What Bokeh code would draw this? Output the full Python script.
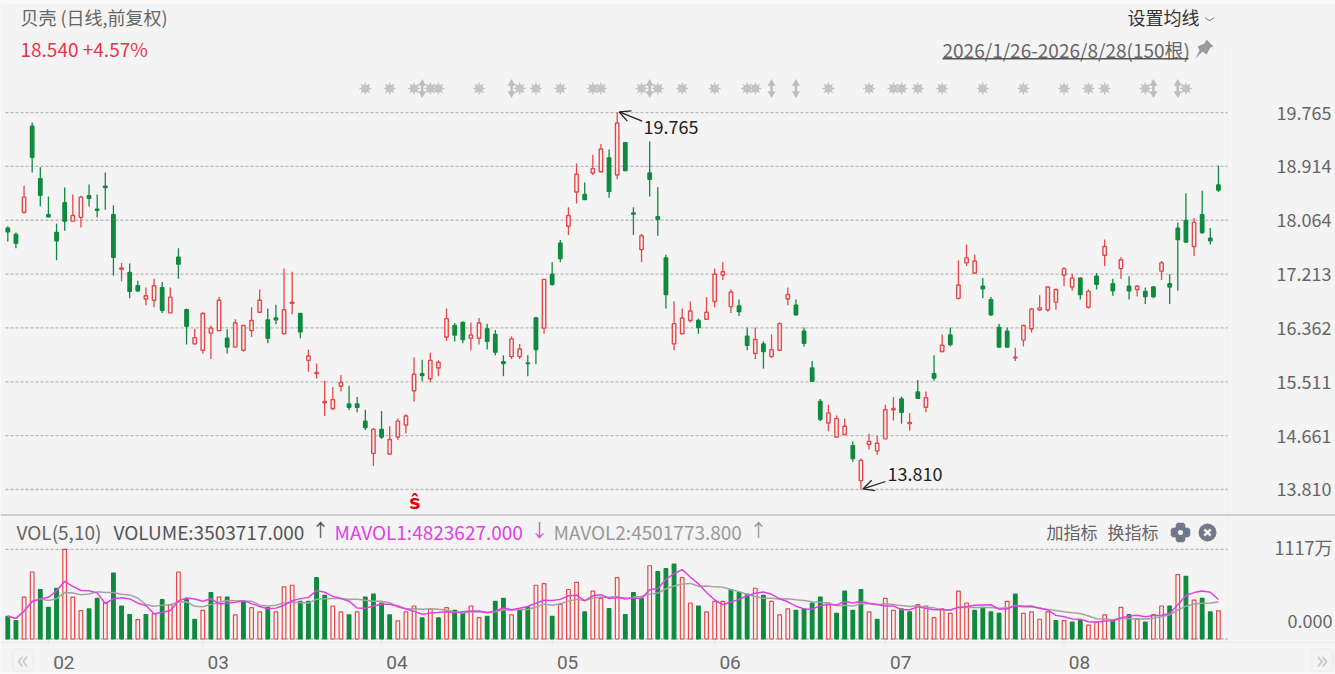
from bokeh.plotting import figure
from bokeh.models import (Range1d, FixedTicker, NumeralTickFormatter, Label, BoxAnnotation,
                          Arrow, OpenHead, ColumnDataSource)
from bokeh.embed import file_html
from bokeh.resources import INLINE
import pandas as pd

high = [17.97,17.87,18.61,19.61,18.90,18.44,18.01,18.58,18.47,18.45,
18.63,18.47,18.82,18.30,17.39,17.38,17.11,17.00,17.14,17.09,
17.00,17.62,16.67,16.35,16.61,16.40,16.85,16.34,16.50,16.40,
16.69,16.97,16.67,16.73,17.30,17.25,16.60,16.02,15.80,15.53,
15.43,15.62,15.45,15.27,15.07,14.78,15.05,14.81,14.93,15.00,
15.90,15.86,15.97,15.85,16.67,16.44,16.47,16.45,16.52,16.43,
16.33,15.93,16.23,16.11,15.93,16.54,17.14,17.40,17.75,18.27,
18.96,18.66,19.10,19.27,19.18,19.765,19.30,18.27,17.85,19.31,
18.59,17.52,16.78,16.67,16.78,16.51,16.85,17.30,17.40,16.97,
16.81,16.37,16.37,16.15,16.26,16.45,17.00,16.81,16.37,15.84,
15.24,15.15,14.98,14.93,14.57,14.30,14.69,14.66,15.15,15.27,
15.28,15.02,15.54,15.36,15.93,16.26,16.37,17.43,17.68,17.52,
17.15,16.85,16.43,16.37,16.05,16.40,16.68,16.88,17.02,16.98,
17.32,17.22,17.16,16.97,17.23,17.76,17.14,17.48,17.18,17.04,
17.00,17.02,17.42,17.21,18.03,18.49,18.10,18.53,17.94,18.93]

low = [17.73,17.62,18.17,18.82,18.28,18.11,17.43,17.90,18.04,17.95,
18.28,18.11,18.23,17.19,17.10,16.83,16.93,16.72,16.69,16.60,
16.60,17.14,16.10,16.10,15.96,15.87,16.31,15.96,16.06,15.99,
16.22,16.60,16.12,16.42,16.27,16.58,16.20,15.67,15.56,14.97,
15.06,15.36,15.06,15.03,14.75,14.18,14.61,14.37,14.59,14.70,
15.20,15.52,15.50,15.60,16.16,16.15,16.12,16.01,16.10,16.02,
15.93,15.60,15.87,15.87,15.60,15.79,16.27,17.03,17.40,17.83,
18.33,18.39,18.78,18.82,18.42,18.71,18.84,17.83,17.40,18.44,
17.82,16.67,16.01,16.27,16.45,16.27,16.49,16.69,17.12,16.60,
16.55,16.01,15.87,15.72,15.89,16.00,16.72,16.56,16.07,15.51,
14.89,14.73,14.63,14.66,14.25,13.81,14.44,14.36,14.61,14.90,
14.85,14.74,15.24,15.03,15.53,15.98,16.07,16.81,17.34,17.22,
16.83,16.55,16.05,16.05,15.84,16.07,16.29,16.63,16.62,16.65,
17.02,16.95,16.81,16.67,16.97,17.34,16.87,17.14,16.81,16.86,
16.74,16.83,17.12,16.74,16.95,17.71,17.50,17.85,17.68,18.51]

open_ = [17.94,17.84,18.19,19.55,18.72,18.15,17.87,18.34,18.05,18.11,
18.45,18.24,18.60,18.15,17.29,17.24,17.03,16.82,16.80,17.00,
16.60,17.48,16.65,16.11,16.01,16.28,16.32,16.20,16.06,16.01,
16.32,16.61,16.49,16.52,16.27,16.75,16.59,15.85,15.64,15.18,
15.09,15.44,15.16,15.16,14.89,14.38,14.76,14.37,14.64,14.83,
15.37,15.64,15.56,15.73,16.22,16.40,16.45,16.20,16.20,16.35,
16.26,15.83,15.91,15.91,15.81,16.52,16.36,17.21,17.70,17.97,
18.51,18.47,18.81,18.83,19.05,18.78,19.29,18.18,17.60,18.81,
18.12,17.47,16.11,16.27,16.48,16.48,16.50,16.78,17.20,16.70,
16.71,16.23,15.96,16.11,15.91,16.01,16.82,16.72,16.31,15.73,
15.20,14.86,14.64,14.68,14.50,13.95,14.52,14.42,14.61,15.07,
15.24,14.85,15.35,15.11,15.64,15.99,16.25,16.83,17.39,17.23,
17.02,16.81,16.37,16.31,15.89,16.17,16.35,16.65,16.65,16.77,
17.20,17.01,17.15,16.69,17.18,17.51,17.06,17.30,17.02,16.97,
16.94,17.01,17.26,17.06,17.94,18.06,17.65,18.15,17.78,18.62]

close = [17.88,17.70,18.43,19.06,18.46,18.12,17.74,18.05,18.14,18.43,
18.41,18.22,18.58,17.48,17.31,16.94,16.95,16.87,17.03,16.64,
16.85,17.37,16.39,16.21,16.59,16.36,16.80,16.06,16.44,16.40,
16.48,16.80,16.20,16.49,16.65,16.77,16.30,15.92,15.66,15.20,
15.23,15.50,15.11,15.11,14.79,14.76,14.64,14.60,14.89,14.97,
15.63,15.61,15.85,15.82,16.51,16.25,16.18,16.25,16.44,16.15,
15.98,15.80,16.19,16.03,15.80,16.02,17.13,17.05,17.46,18.14,
18.79,18.39,18.88,19.19,18.52,19.60,18.85,18.16,17.82,18.71,
18.08,16.89,16.43,16.52,16.63,16.37,16.61,17.21,17.25,16.93,
16.62,16.09,16.18,15.99,16.02,16.43,16.89,16.57,16.12,15.52,
14.92,15.02,14.93,14.81,14.30,14.27,14.57,14.54,15.07,15.09,
15.03,14.87,15.25,15.26,15.57,16.09,16.10,17.04,17.47,17.42,
16.98,16.57,16.06,16.06,15.90,16.40,16.66,16.68,17.01,16.97,
17.30,17.15,16.89,16.94,17.05,17.65,16.95,17.44,16.95,17.02,
16.86,16.86,17.39,17.01,17.76,17.72,18.03,17.87,17.74,18.54]

# volume, in units of 10 000 shares
volume = [283,230,522,834,616,394,632,1117,522,353,
374,505,452,821,411,304,242,304,316,489,
427,834,489,246,357,579,522,522,300,468,
390,337,390,337,649,669,468,468,764,542,
411,337,300,337,522,559,448,300,226,337,
411,263,374,263,390,357,320,411,267,283,
468,505,300,357,394,669,690,283,431,616,
706,337,596,505,378,764,304,579,505,912,
838,875,932,764,448,411,337,468,468,616,
579,559,632,542,468,300,374,357,374,448,
522,448,320,596,357,616,337,246,505,357,
374,337,427,411,267,374,320,596,448,357,
394,337,320,468,559,320,337,246,337,230,
230,209,230,172,209,300,230,394,304,246,
209,304,411,411,801,780,485,505,337,350.37]

volume_dir = ("GGRRGGGRRR" "GGRGGGRGRG" "RRGGRGRGRG" "RRGRRRGGGG" "RRGRGGGGRR"
              "RGRGRGGRRG" "GGRGGRRGRR" "RGRRGRGGGR" "GGGRRGRRRG" "GGRGRRRGGG"
              "GRGGGGRGRR" "GGRRRRRRRG" "GGGRGRRRRG" "RGGRRRGRGR" "GRRGRGRGGR")

price_ticks = [19.765, 18.914, 18.064, 17.213, 16.362, 15.511, 14.661, 13.810]
volume_ticks = [1117, 0]
month_labels = ["02", "03", "04", "05", "06", "07", "08"]
month_first_bar = [5, 24, 46, 67, 87, 108, 130]
event_star_bars = [44, 47, 50, 52, 53, 58, 63, 65, 68, 72, 73, 78, 80, 83, 87, 91, 92, 101, 106,
                   109, 110, 112, 115, 120, 125, 130, 133, 135, 140, 145]
event_arrow_bars = [51, 62, 79, 94, 97, 141, 144]
high_bar, low_bar = 75, 105

GREEN, RED, BG, TXT, FONT = "#108a3e", "#e5484a", "#f4f4f4", "#666666", "Noto Sans CJK SC"
PX_PER_BAR, X0, UNIT_PER_PX = 8.125, 7.3, 0.0158
W, H, PLOT_R, PLOT_B = 1335, 674, 1227, 642
PRICE_TOP = 21.536
VOL_PER_PX, VOL_ZERO_PY = 12.45, 638.5

def X(px): return (px - X0) / PX_PER_BAR
def Y(py): return PRICE_TOP - UNIT_PER_PX * py

n = len(close)
df = pd.DataFrame(dict(i=list(range(n)), o=open_, h=high, l=low, c=close, v=volume))
df["top"] = df[["o", "c"]].max(axis=1)
df["bot"] = df[["o", "c"]].min(axis=1)
df["col"] = [RED if c >= o else GREEN for o, c in zip(open_, close)]
df["fill"] = [BG if c >= o else GREEN for o, c in zip(open_, close)]
df["vcol"] = [RED if d == "R" else GREEN for d in volume_dir]
df["vfill"] = [BG if d == "R" else GREEN for d in volume_dir]
df["ma5"] = df["v"].rolling(5, min_periods=1).mean()
df["ma10"] = df["v"].rolling(10, min_periods=1).mean()
src = ColumnDataSource(df)

p = figure(frame_width=W, frame_height=H, output_backend="svg", toolbar_location=None,
           x_range=Range1d(X(0), X(W)), y_range=Range1d(Y(H), Y(0)),
           y_axis_location="right", min_border_left=0, min_border_top=0,
           min_border_right=0, min_border_bottom=0,
           background_fill_color=BG, border_fill_color=BG, outline_line_color=None)
p.grid.visible = False
p.extra_y_ranges = {"vol": Range1d((VOL_ZERO_PY - H) * VOL_PER_PX, VOL_ZERO_PY * VOL_PER_PX)}

ax = p.yaxis[0]
ax.fixed_location = X(PLOT_R)
ax.ticker = FixedTicker(ticks=price_ticks)
ax.formatter = NumeralTickFormatter(format="0.000")
ax.major_tick_line_color = None
ax.minor_tick_line_color = None
ax.major_tick_out = 0
ax.major_tick_in = 0
ax.axis_line_color = None
ax.major_label_standoff = 49
ax.major_label_text_font = FONT
ax.major_label_text_font_size = "18px"
ax.major_label_text_color = TXT

xa = p.xaxis[0]
xa.fixed_location = Y(PLOT_B)
label_pos = [round(m + 1.9, 1) for m in month_first_bar]
xa.ticker = FixedTicker(ticks=label_pos)
xa.major_label_overrides = {k: v for k, v in zip(label_pos, month_labels)}
xa.major_tick_line_color = None
xa.minor_tick_line_color = None
xa.major_tick_out = 0
xa.major_tick_in = 0
xa.axis_line_color = "#e9e9e9"
xa.major_label_standoff = 13
xa.major_label_text_font = "Roboto"
xa.major_label_text_font_size = "19px"
xa.major_label_text_color = TXT

# faint right edge of the plot area
p.segment(x0=[X(PLOT_R)], x1=[X(PLOT_R)], y0=[Y(45)], y1=[Y(PLOT_B)], line_color="#eeeeee")

# month ticks
p.segment(x0=month_first_bar, x1=month_first_bar, y0=[Y(640)] * 7, y1=[Y(PLOT_B + 2)] * 7, line_color="#dddddd")

# dashed reference lines
grid_kw = dict(line_color="#b8b8b8", line_width=1.3, line_dash="3 2")
p.segment(x0=[X(5)] * len(price_ticks), x1=[X(PLOT_R)] * len(price_ticks), y0=price_ticks, y1=price_ticks, **grid_kw)
p.segment(x0=[X(5)] * 2, x1=[X(PLOT_R)] * 2, y0=volume_ticks, y1=volume_ticks, y_range_name="vol", **grid_kw)

# candles
p.segment("i", "h", "i", "l", source=src, line_color="col", line_width=1.3)
p.vbar(x="i", top="top", bottom="bot", width=0.42, source=src, fill_color="fill", line_color="col", line_width=1.4)

# volume
p.vbar(x="i", top="v", bottom=0, width=0.45, source=src, fill_color="vfill", line_color="vcol",
       line_width=1.2, y_range_name="vol")
p.line("i", "ma10", source=src, line_color="#a3a3a3", line_width=1.5, y_range_name="vol")
p.line("i", "ma5", source=src, line_color="#e23fe8", line_width=1.5, y_range_name="vol")

# event markers
ev_y = Y(88)
p.scatter(event_star_bars, [ev_y] * len(event_star_bars), marker="circle", size=8, fill_color="#c4c4c4", line_color=None)
p.scatter(event_star_bars, [ev_y] * len(event_star_bars), marker="asterisk", size=12, line_color="#c4c4c4", line_width=1.3)
n_arrow = len(event_arrow_bars)
p.segment(x0=event_arrow_bars, x1=event_arrow_bars, y0=[Y(84)] * n_arrow, y1=[Y(92)] * n_arrow, line_color="#bdbdbd", line_width=2.5)
p.scatter(event_arrow_bars, [Y(83)] * n_arrow, marker="triangle", size=8, fill_color="#bdbdbd", line_color=None)
p.scatter(event_arrow_bars, [Y(93)] * n_arrow, marker="inverted_triangle", size=8, fill_color="#bdbdbd", line_color=None)

def L(px, py, text, color=TXT, size=18, align="left", font=FONT, style="normal"):
    p.add_layout(Label(x=px, y=H - py + 1.5, x_units="screen", y_units="screen", text=text, text_color=color,
                       text_font_size=f"{size}px", text_align=align, text_baseline="middle",
                       text_font=font, text_font_style=style))

def B(x0, y0, x1, y1, color, line=None, radius=0, lw=1):
    p.add_layout(BoxAnnotation(left=x0, right=x1, top=H - y0, bottom=H - y1, left_units="screen",
                               right_units="screen", top_units="screen", bottom_units="screen",
                               fill_color=color, fill_alpha=1 if color else 0, line_color=line, line_width=lw,
                               border_radius=radius, level="overlay"))

L(414.5, 503, "ŝ", color="#e60012", align="center", font="DejaVu Sans", style="bold", size=19)

# extreme annotations
for (b, val, tx, ty, sx, sy) in [(high_bar, high[high_bar], 643, 128, 641.7, 120.7),
                                 (low_bar, low[low_bar], 887, 475, 885, 481)]:
    p.add_layout(Arrow(end=OpenHead(size=11, line_color="#222222", line_width=1.3),
                       x_start=X(sx), y_start=Y(sy), x_end=b + 0.25, y_end=val + 0.01,
                       line_color="#222222", line_width=1.3))
    L(tx, ty, f"{val:.3f}", color="#222222")

# header
L(20, 18, "贝壳 (日线,前复权)")
L(20, 49, "18.540 +4.57%", color="#e8344a", size=19)
L(1127, 18, "设置均线", color="#333333")
L(1204, 22, "﹀", color="#555555", size=10)
L(942, 50, "2026/1/26-2026/8/28(150根)", size=19)
B(942, 57.5, 1188, 59, "#555555")

p.patch([X(a) for a in (1206, 1213, 1210, 1206, 1202, 1195, 1199, 1197, 1204)],
        [Y(b) for b in (39, 46, 47, 54, 51, 58, 50, 46, 43)], fill_color="#9a9a9a", line_color=None)

# strips and separators
B(0, 0, W, 3, "#fafafa")
B(0, 672, W, H, "#fafafa")
B(0, 514, W, 515, "#aaaaaa")

# volume panel header
L(16, 532, "VOL(5,10)", size=19)
L(113, 532, "VOLUME:3503717.000", color="#555555", size=19)
L(320, 530, "↑", color="#555555", align="center")
L(334, 532, "MAVOL1:4823627.000", color="#e23fe8", size=19)
L(539, 530, "↓", color="#e23fe8", align="center")
L(553, 532, "MAVOL2:4501773.800", color="#999999", size=19)
L(758, 530, "↑", color="#999999", align="center")
L(1046, 532, "加指标", size=17)
L(1107, 532, "换指标", size=17)

# gear and close icons
ICON = "#737a87"
for m, s, w in [("plus", 16, 3.5), ("x", 14, 3.5)]:
    p.scatter([X(1180)], [Y(532)], marker=m, size=s, line_color=ICON, line_width=w)
p.scatter([X(1180)], [Y(532)], marker="circle", size=11, fill_color=ICON, line_color=None)
p.scatter([X(1180)], [Y(532)], marker="circle", size=5, fill_color=BG, line_color=None)
p.scatter([X(1207)], [Y(532)], marker="circle", size=18, fill_color=ICON, line_color=None)
p.scatter([X(1207)], [Y(532)], marker="x", size=9, line_color=BG, line_width=2.5)

L(1332, 548, "1117万", align="right")
L(1332, 622, "0.000", align="right")

# paging buttons
B(12, 649, 33, 671, None, line="#e0e0e0", radius=4, lw=2)
B(1311, 649, 1332, 671, None, line="#e0e0e0", radius=4, lw=2)
L(22.5, 658, "«", color="#c8c8c8", size=26, align="center")
L(1321.5, 658, "»", color="#c8c8c8", size=26, align="center")

open("out.html", "w").write(file_html(p, INLINE))
